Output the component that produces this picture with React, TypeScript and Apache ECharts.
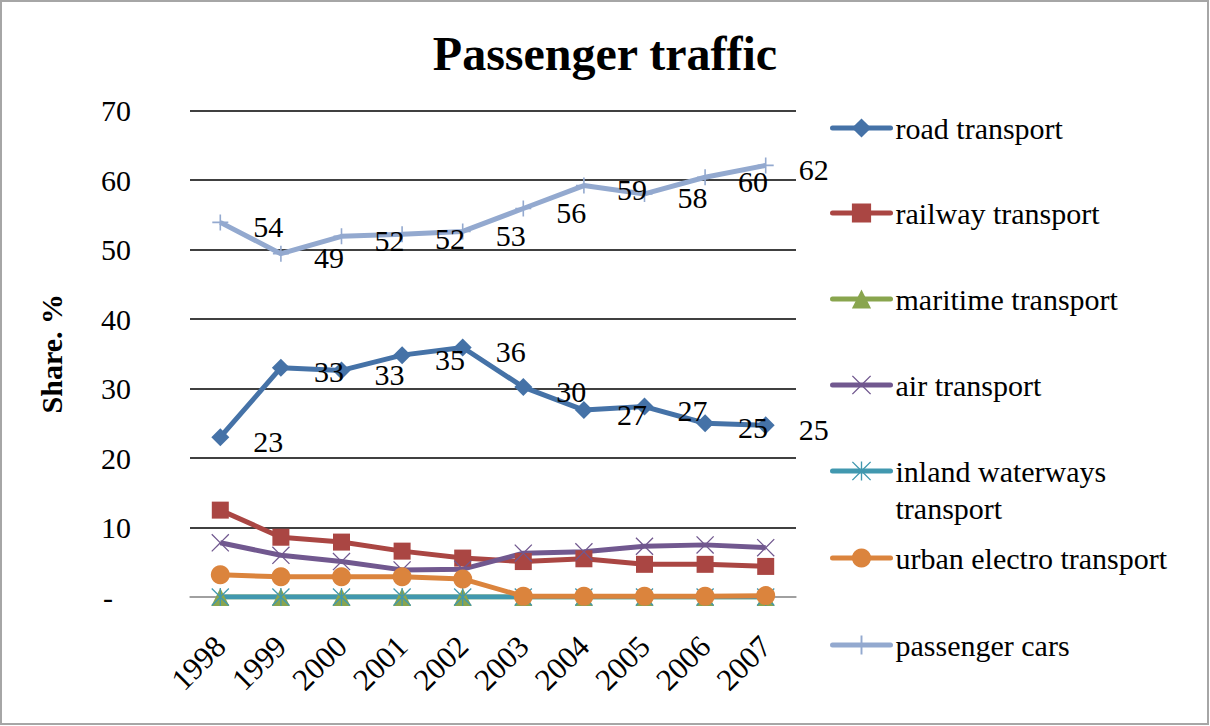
import React, { useEffect, useRef } from "react";
import * as echarts from "echarts";

const years = ["1998", "1999", "2000", "2001", "2002", "2003", "2004", "2005", "2006", "2007"];
const seriesNames = [
  "road transport",
  "railway transport",
  "maritime transport",
  "air transport",
  "inland waterways transport",
  "urban electro transport",
  "passenger cars",
];
const road = [23.0, 33.0, 32.6, 34.8, 35.9, 30.2, 26.9, 27.4, 25.0, 24.7];
const railway = [12.5, 8.6, 7.9, 6.6, 5.6, 5.1, 5.5, 4.7, 4.7, 4.4];
const maritime = [0, 0, 0, 0, 0, 0, 0, 0, 0, 0];
const air = [7.8, 6.0, 5.1, 3.9, 4.0, 6.3, 6.5, 7.3, 7.5, 7.1];
const inland = [0, 0, 0, 0, 0, 0, 0, 0, 0, 0];
const urban = [3.2, 2.9, 2.9, 2.9, 2.6, 0.1, 0.1, 0.1, 0.1, 0.2];
const cars = [53.9, 49.4, 51.9, 52.2, 52.6, 55.9, 59.2, 58.0, 60.4, 62.1];
const yTicks = [0, 10, 20, 30, 40, 50, 60, 70];

const colors = ["#4572A7", "#AA4643", "#89A54E", "#71588F", "#4198AF", "#DB843D", "#93A9CF"];
const FONT = "'Liberation Serif', 'Times New Roman', serif";

const PLUS = "path://M9,0 H11 V9 H20 V11 H11 V20 H9 V11 H0 V9 H9 Z";
const CROSS = "path://M0,1 L1,0 L10,9 L19,0 L20,1 L11,10 L20,19 L19,20 L10,11 L1,20 L0,19 L9,10 Z";
const STAR = "path://M0,1 L1,0 L10,9 L19,0 L20,1 L11,10 L20,19 L19,20 L10,11 L1,20 L0,19 L9,10 Z M9.3,0 H10.7 V20 H9.3 Z";

export default function App() {
  const ref = useRef<HTMLDivElement>(null);
  useEffect(() => {
    if (!ref.current) return;
    const chart = echarts.init(ref.current, undefined, { renderer: "svg" });
    const datas = [road, railway, maritime, air, inland, urban, cars];
    const symbols = ["diamond", "rect", "triangle", CROSS, STAR, "circle", PLUS];
    const sizes = [18, 17, 18, 18, 18, 19, 16];
    const withLabels = [true, false, false, false, false, false, true];
    const legendCenters = [128, 213, 299, 385, 471, 558, 645];

    const series = seriesNames.map((name, i) => ({
      name,
      type: "line",
      data: datas[i],
      symbol: symbols[i],
      symbolSize: sizes[i],
      showAllSymbol: true,
      color: colors[i],
      lineStyle: { color: colors[i], width: 5 },
      itemStyle: { color: colors[i], borderWidth: 0 },
      label: withLabels[i]
        ? {
            show: true,
            position: "inside",
            offset: [48, 4],
            formatter: (p: any) => String(Math.round(p.value)),
            fontSize: 30,
            fontFamily: FONT,
            color: "#000",
          }
        : { show: false },
      emphasis: { disabled: true },
    }));

    const legends = seriesNames.map((name, i) => {
      const isInland = i === 4;
      const lh = 37;
      return {
        data: [name],
        left: 830,
        top: isInland ? legendCenters[i] - lh * 1.5 : legendCenters[i] - lh / 2,
        padding: 0,
        itemWidth: 58,
        itemHeight: 24,
        itemGap: 0,
        itemTextGap: 9,
        selectedMode: false,
        lineStyle: { width: 5, cap: "round" },
        formatter: isInland ? () => "\u00a0\ninland waterways\ntransport" : undefined,
        textStyle: { fontSize: 30, fontFamily: FONT, color: "#000", lineHeight: lh },
      };
    });

    chart.setOption({
      animation: false,
      backgroundColor: "#fff",
      title: {
        text: "Passenger traffic",
        left: "center",
        top: 24,
        textStyle: { fontSize: 48, fontWeight: "bold", fontFamily: FONT, color: "#000" },
      },
      legend: legends,
      grid: { left: 190, right: 414, top: 110.5, bottom: 129 },
      xAxis: {
        type: "category",
        data: years,
        boundaryGap: true,
        axisLine: { show: true, lineStyle: { color: "#9a9a9a", width: 1.5 } },
        axisTick: { show: false },
        axisLabel: { rotate: 45, margin: 44, fontSize: 31, fontFamily: FONT, color: "#000" },
      },
      yAxis: {
        type: "value",
        min: yTicks[0],
        max: yTicks[yTicks.length - 1],
        interval: 10,
        name: "Share. %",
        nameLocation: "middle",
        nameGap: 124,
        nameTextStyle: { fontSize: 30, fontWeight: "bold", fontFamily: FONT, color: "#000" },
        axisLine: { show: false },
        axisTick: { show: false },
        splitLine: {
          show: true,
          lineStyle: { color: ["#9a9a9a", "#000", "#000", "#000", "#000", "#000", "#000", "#000"], width: 1.5 },
        },
        axisLabel: {
          margin: 59,
          fontSize: 30,
          fontFamily: FONT,
          color: "#000",
          formatter: (v: number) => (v === 0 ? "{d|-}" : String(v)),
          rich: { d: { fontSize: 30, fontFamily: FONT, color: "#000", padding: [0, 18, 0, 0] } },
        },
      },
      graphic: [
        {
          type: "rect",
          shape: { x: 1, y: 1, width: 1207, height: 723 },
          style: { fill: "none", stroke: "#a6a6a6", lineWidth: 2 },
          silent: true,
        },
      ],
      series,
    });
    return () => chart.dispose();
  }, []);
  return (
    <div
      ref={ref}
      style={{ position: "absolute", left: 0, top: 0, width: 1210, height: 726, background: "#fff" }}
    />
  );
}
